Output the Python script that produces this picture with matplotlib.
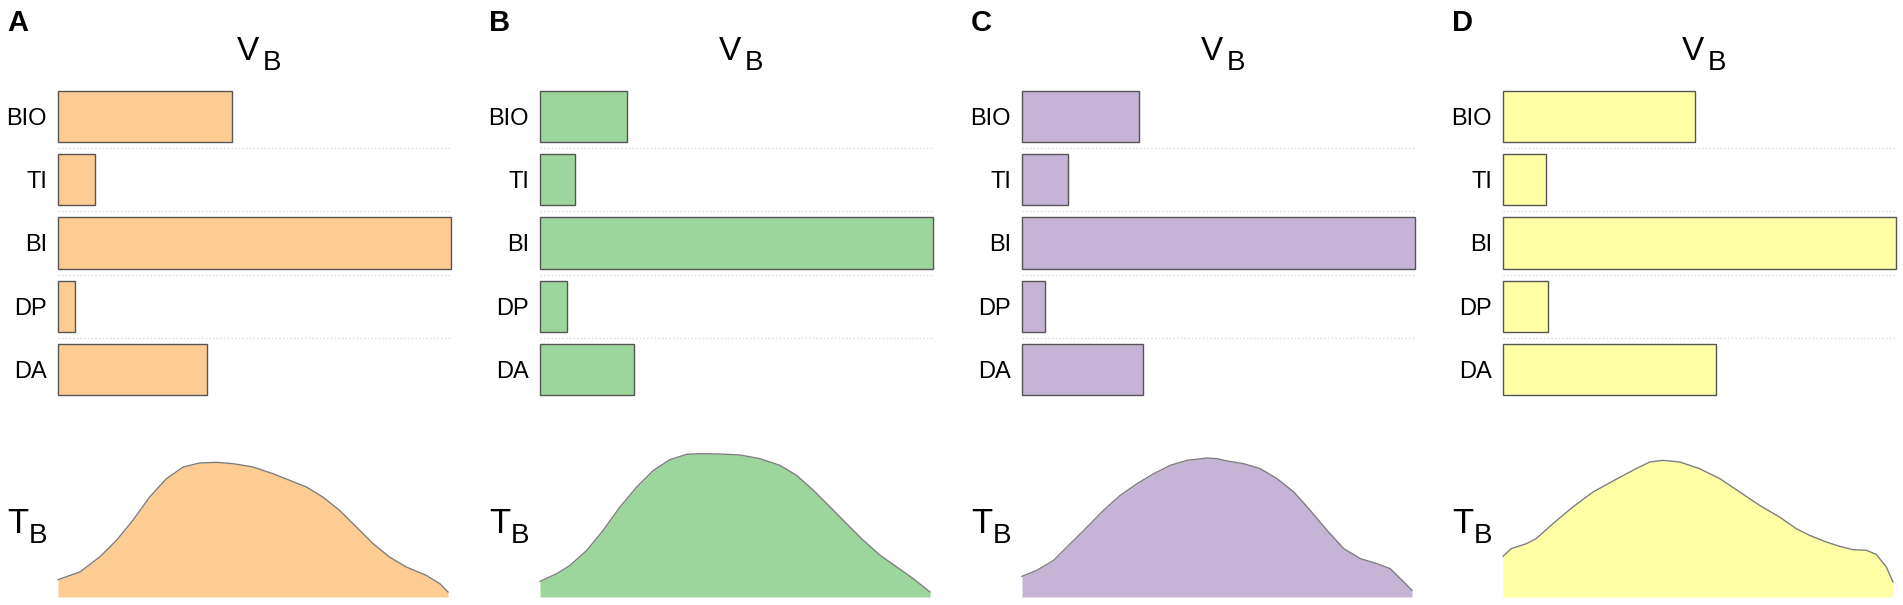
import numpy as np
import matplotlib
matplotlib.use("Agg")
from matplotlib import pyplot as plt

plt.rcParams['font.family'] = ['Liberation Sans', 'DejaVu Sans']

W, H = 1903, 605

panels = ['A', 'B', 'C', 'D']
categories = ['BIO', 'TI', 'BI', 'DP', 'DA']
colors = ['#fdcc92', '#9dd69d', '#c6b4d7', '#ffffa6']

# V_B bar lengths (relative to BI)
vb_A = [0.442, 0.093, 1.0, 0.043, 0.379]
vb_B = [0.222, 0.088, 1.0, 0.069, 0.239]
vb_C = [0.298, 0.117, 1.0, 0.059, 0.307]
vb_D = [0.489, 0.109, 1.0, 0.115, 0.543]

# T_B profiles, x in % of range, y arbitrary height
tb_x_A = [0, 5.6, 10.7, 15.0, 19.2, 23.5, 27.8, 32.1, 36.3, 40.6, 44.9, 50.0,
          55.1, 59.4, 63.7, 67.9, 72.2, 76.5, 80.8, 85.0, 89.3, 94.4, 97.9, 100]
tb_y_A = [52, 75, 120, 170, 230, 300, 355, 390, 402, 404, 400, 390,
          370, 350, 330, 300, 260, 210, 160, 120, 90, 65, 40, 15]

tb_x_B = [0, 4.3, 7.7, 12.0, 16.2, 20.5, 24.8, 29.1, 33.3, 37.6, 41.0, 46.2,
          51.3, 56.4, 61.5, 65.8, 70.1, 74.4, 78.6, 82.9, 87.2, 91.5, 95.7, 100]
tb_y_B = [47, 70, 95, 140, 200, 270, 330, 380, 412, 428, 430, 429,
          426, 415, 395, 365, 320, 270, 220, 170, 125, 90, 55, 15]

tb_x_C = [0, 3.8, 8.1, 12.4, 16.7, 20.9, 25.2, 29.5, 33.8, 38.0, 42.3, 47.4, 50.0,
          52.6, 56.8, 61.1, 65.4, 69.7, 73.9, 78.2, 82.5, 86.8, 91.0, 94.4, 97.9, 100]
tb_y_C = [62, 80, 110, 160, 210, 260, 305, 340, 370, 395, 410, 417, 415,
          408, 400, 385, 355, 315, 260, 200, 145, 115, 100, 85, 45, 20]

tb_x_D = [0, 2.1, 6.0, 8.5, 12.8, 17.9, 23.1, 28.2, 33.3, 37.6, 41.0, 45.3, 50.4,
          55.6, 60.7, 65.8, 70.9, 75.2, 78.6, 82.9, 86.3, 89.7, 93.2, 95.7, 98.3, 100]
tb_y_D = [122, 145, 160, 175, 220, 270, 315, 348, 380, 405, 410, 405, 385,
          355, 315, 275, 240, 205, 185, 165, 152, 142, 140, 128, 90, 45]

vb_all = [vb_A, vb_B, vb_C, vb_D]
tb_all = [(tb_x_A, tb_y_A), (tb_x_B, tb_y_B), (tb_x_C, tb_y_C), (tb_x_D, tb_y_D)]

# left edge of each panel's bars (px)
lefts = [58, 540, 1022, 1503]
bar_w = 393
area_w = 390


def fig_rect(x0, y_top, w, h):
    return [x0 / W, 1 - (y_top + h) / H, w / W, h / H]


fig = plt.figure(figsize=(W / 100, H / 100), dpi=100)

for i in range(4):
    x0 = lefts[i]
    col = colors[i]

    # bar panel
    ax = fig.add_axes(fig_rect(x0, 85, bar_w, 316))
    ypos = np.arange(len(categories))
    bars = ax.barh(ypos, vb_all[i], height=0.81, color=col, edgecolor='#555555', linewidth=1.0)
    for b in bars:
        b.set_clip_on(False)
    for k in range(len(categories) - 1):
        ax.axhline(k + 0.5, color='#d8d8d8', linestyle=':', linewidth=1.0, xmin=0, xmax=0.998)
    ax.set_xlim(0, 1.0)
    ax.set_ylim(len(categories) - 0.5, -0.5)
    ax.set_yticks(ypos)
    ax.set_yticklabels(categories, fontsize=17)
    ax.tick_params(axis='y', length=0, pad=8)
    ax.set_xticks([])
    for s in ax.spines.values():
        s.set_visible(False)

    # T_B profile
    ax2 = fig.add_axes(fig_rect(x0, 447, area_w, 150))
    tx, ty = tb_all[i]
    ax2.fill_between(tx, 0, ty, color=col, linewidth=0)
    ax2.plot(tx, ty, color='#7f7f7f', linewidth=1.0, clip_on=False)
    ax2.set_xlim(0, 100)
    ax2.set_ylim(0, 450)
    ax2.axis('off')

    # texts
    fig.text((x0 - 51) / W, 1 - 31 / H, panels[i], fontsize=21, fontweight='bold')
    cx = x0 + bar_w / 2
    fig.text((cx - 18) / W, 1 - 60 / H, 'V', fontsize=24)
    fig.text((cx + 8) / W, 1 - 70 / H, 'B', fontsize=20)
    tl = x0 - 51
    fig.text(tl / W, 1 - 533 / H, 'T', fontsize=25)
    fig.text((tl + 22) / W, 1 - 543 / H, 'B', fontsize=20)

fig.savefig('out.png', dpi=100, facecolor='white')
